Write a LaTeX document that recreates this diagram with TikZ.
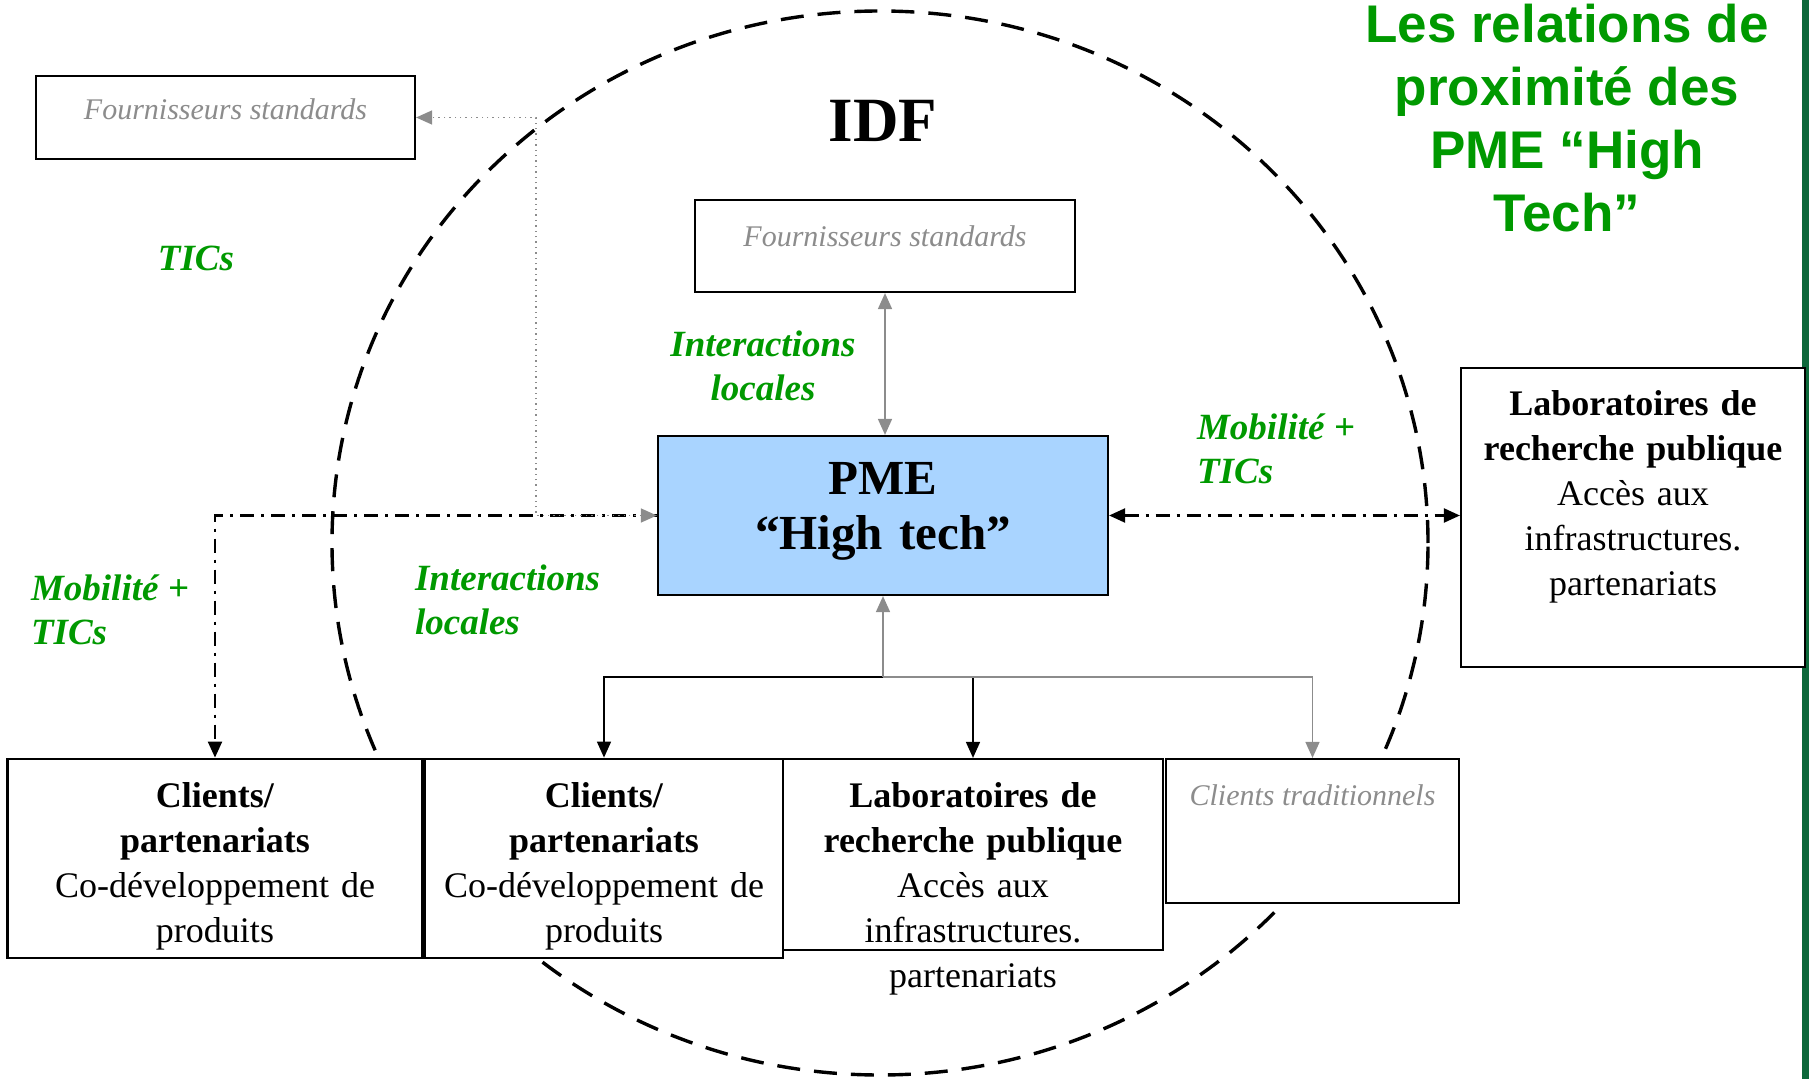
\documentclass[tikz,border=0pt]{standalone}
\usepackage{fontspec}
\setmainfont{Liberation Serif}
\newfontfamily\titlefont{Liberation Sans}
\usetikzlibrary{arrows.meta}
\definecolor{idfgreen}{RGB}{0,153,0}
\definecolor{slidegreen}{RGB}{12,104,58}
\definecolor{pmeblue}{RGB}{169,212,255}
\definecolor{softgray}{RGB}{140,140,140}
\tikzstyle{box} = [rectangle, draw=black, line width=1.1pt, fill=white, inner sep=0pt]
\tikzstyle{supplier} = [box, text=softgray, font=\fontsize{15}{18}\selectfont\itshape]
\tikzstyle{partner} = [box, align=center, font=\fontsize{18}{22.5}\selectfont]
\tikzstyle{greenlabel} = [text=idfgreen, font=\fontsize{18.5}{22}\selectfont\bfseries\itshape]
\tikzstyle{arrow} = [line width=0.8pt, -{Triangle[length=8pt,width=7pt]}]
\tikzstyle{grayarrow} = [arrow, draw=softgray, {Triangle[length=8pt,width=7pt]}-{Triangle[length=8pt,width=7pt]}]
\tikzstyle{dashdot} = [line width=1.1pt, dash pattern=on 7pt off 3.5pt on 1.5pt off 3.5pt]

\begin{document}
\begin{tikzpicture}[x=0.5pt, y=-0.5pt]
	\useasboundingbox (0,0) rectangle (1809,1079);
	\fill[slidegreen] (1802,0) rectangle (1809,1079);

	% la zone IDF
	\draw[line width=1.7pt, dash pattern=on 11.5pt off 7pt] (880,543) ellipse [x radius=274pt, y radius=266pt];

	\node (title) [text=idfgreen, align=center, font=\titlefont\fontsize{26.5}{31.5}\selectfont\bfseries] at (1567,118) {Les relations de\\proximit\'e des\\PME \textquotedblleft High\\Tech\textquotedblright};
	\node (idf) [font=\fontsize{31.5}{36}\selectfont\bfseries] at (883,121) {IDF};

	\node (fsout) [supplier, minimum width=189.5pt, text height=22pt, text depth=19.5pt] at (225.5,117.5) {Fournisseurs standards};
	\node (fsin) [supplier, minimum width=190pt, text height=23.2pt, text depth=22.8pt] at (885,246) {Fournisseurs standards};

	\node (pme) [partner, fill=pmeblue, text width=225pt, text height=29.5pt, text depth=50pt, font=\fontsize{24.5}{27.5}\selectfont\bfseries] at (883,515.5) {PME\\\textquotedblleft High tech\textquotedblright};

	\node (lab) [partner, text width=172pt, text height=24pt, text depth=125.5pt] at (1633,517.5) {\textbf{Laboratoires de}\\\textbf{recherche publique}\\Acc\`es aux\\infrastructures.\\partenariats};

	% rangee du bas
	\node (cli1) [partner, line width=1.4pt, text width=207.5pt, text height=24pt, text depth=75.5pt] at (215,858.5) {\textbf{Clients/}\\\textbf{partenariats}\\Co-d\'eveloppement de\\produits};
	\node (cli2) [partner, line width=1.4pt, text width=179pt, text height=24pt, text depth=75.5pt] at (604,858.5) {\textbf{Clients/}\\\textbf{partenariats}\\Co-d\'eveloppement de\\produits};
	\node (labidf) [partner, text width=190pt, text height=24pt, text depth=71.5pt] at (973,854.5) {\textbf{Laboratoires de}\\\textbf{recherche publique}\\Acc\`es aux\\infrastructures.\\partenariats};
	\node (trad) [supplier, minimum width=146.5pt, text height=23pt, text depth=49pt] at (1312.5,831) {Clients traditionnels};

	\node (ticsout) [greenlabel] at (196,258) {TICs};
	\node (interup) [greenlabel, align=center] at (763,366) {Interactions\\locales};
	\node (mobright) [greenlabel, align=left, anchor=west] at (1190,449) {Mobilit\'e +\\TICs};
	\node (mobleft) [greenlabel, align=left, anchor=west] at (24,610) {Mobilit\'e +\\TICs};
	\node (interdown) [greenlabel, align=left, anchor=west] at (408,600) {Interactions\\locales};

	\coordinate (tap) at (536,117.5);
	\coordinate (hub) at ([yshift=-40.5pt]pme.south);

	\draw [arrow, dashdot] (pme.west) -| (cli1.north);
	\draw [grayarrow, line width=0.7pt, dotted] (pme.west) -| (tap) -- (fsout.east);
	\draw [grayarrow] (fsin.south) -- (fsin.south |- pme.north);
	\draw [arrow, dashdot, {Triangle[length=8pt,width=7pt]}-{Triangle[length=8pt,width=7pt]}] (pme.east) -- (pme.east -| lab.west);

	\draw [arrow] (hub -| labidf.north) -- (labidf.north);
	\draw [arrow] (hub) -| (cli2.north);
	\draw [arrow, draw=softgray] (hub) -| (trad.north);
	\draw [arrow, draw=softgray] (hub) -- (pme.south);
\end{tikzpicture}
\end{document}
